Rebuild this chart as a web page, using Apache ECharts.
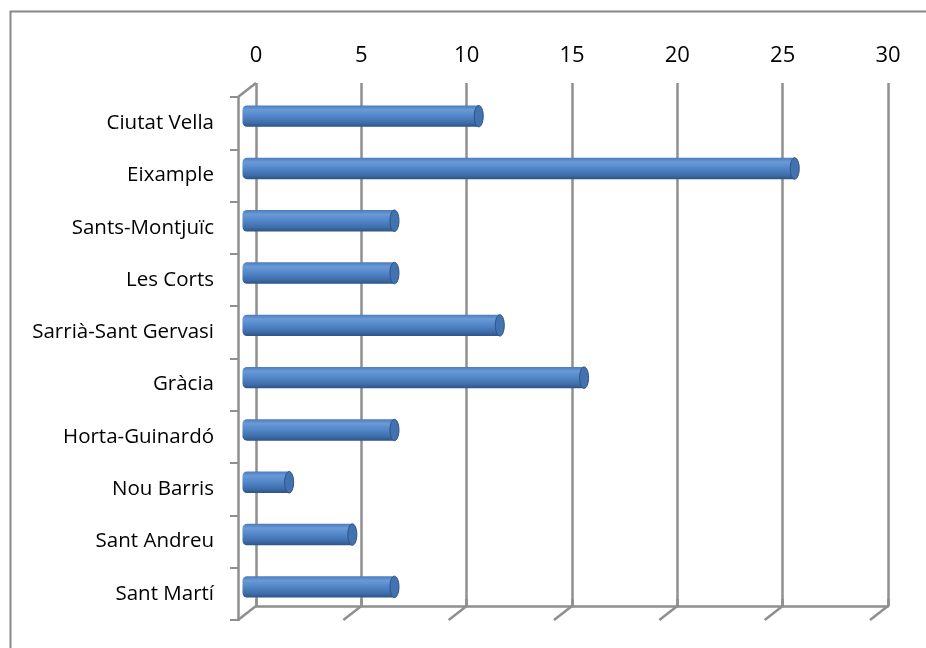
<!DOCTYPE html>
<html>
<head>
<meta charset="utf-8">
<script src="https://cdn.jsdelivr.net/npm/echarts@6/dist/echarts.min.js"></script>
<style>
html,body{margin:0;padding:0;background:#fff;}
#c{width:926px;height:648px;}
</style>
</head>
<body>
<div id="c"></div>
<script>
const categories = ['Ciutat Vella','Eixample','Sants-Montjuïc','Les Corts','Sarrià-Sant Gervasi','Gràcia','Horta-Guinardó','Nou Barris','Sant Andreu','Sant Martí'];
const values = [11, 26, 7, 7, 12, 16, 7, 2, 5, 7];
const tickValues = [0, 5, 10, 15, 20, 25, 30];

const GRID = '#8f8f8f';
const FONT = '"Open Sans", sans-serif';
const DX = -18, DY = 14;

const chart = echarts.init(document.getElementById('c'));

const barGrad = new echarts.graphic.LinearGradient(0, 0, 0, 1, [
  {offset: 0, color: '#4a7cbd'},
  {offset: 0.2, color: '#6a9ad6'},
  {offset: 0.5, color: '#5186c8'},
  {offset: 0.82, color: '#3e6ca8'},
  {offset: 1, color: '#2e5286'}
]);

chart.setOption({
  animation: false,
  backgroundColor: '#fff',
  graphic: [{
    type: 'rect', left: 8, top: 9, z: 0,
    shape: {width: 940, height: 660},
    style: {fill: 'none', stroke: '#878787', lineWidth: 2}
  }],
  grid: [
    {left: 256, right: 38, top: 83, bottom: 42},
    {left: 238, right: 56, top: 97, bottom: 28},
    {left: 247, right: 47, top: 90, bottom: 35}
  ],
  xAxis: [
    {gridIndex: 0, type: 'value', min: 0, max: 30, interval: 5, position: 'top',
     axisLine: {show: true, lineStyle: {color: GRID, width: 2.5}},
     axisTick: {show: true, length: 7, lineStyle: {color: GRID, width: 2.5}},
     splitLine: {show: true, lineStyle: {color: GRID, width: 2.5}},
     axisLabel: {color: '#000', fontSize: 22, fontFamily: FONT, margin: 16}},
    {gridIndex: 1, type: 'value', min: 0, max: 30, show: false},
    {gridIndex: 2, type: 'value', min: 0, max: 30, show: false}
  ],
  yAxis: [
    {gridIndex: 0, type: 'value', min: 0, max: 1, show: false},
    {gridIndex: 1, type: 'category', inverse: true, data: categories,
     axisLine: {show: true, lineStyle: {color: GRID, width: 2.5}},
     axisTick: {show: true, length: 8, lineStyle: {color: GRID, width: 2}},
     axisLabel: {color: '#000', fontSize: 20.5, fontFamily: FONT, margin: 24},
     splitLine: {show: false}},
    {gridIndex: 2, type: 'category', inverse: true, data: categories, show: false}
  ],
  series: [
    {
      type: 'custom', xAxisIndex: 0, yAxisIndex: 0, z: 1, silent: true,
      data: tickValues,
      renderItem: function (params, api) {
        const v = api.value(0);
        const b = api.coord([v, 0]);
        const children = [{
          type: 'line',
          shape: {x1: b[0], y1: b[1], x2: b[0] + DX, y2: b[1] + DY},
          style: {stroke: GRID, lineWidth: 2.5}
        }];
        if (v === 0) {
          const t = api.coord([v, 1]);
          children.push({
            type: 'line',
            shape: {x1: t[0], y1: t[1], x2: t[0] + DX, y2: t[1] + DY},
            style: {stroke: GRID, lineWidth: 2.5}
          });
        }
        return {type: 'group', children: children};
      }
    },
    {
      type: 'custom', xAxisIndex: 2, yAxisIndex: 2, z: 3,
      data: values.map(function (v, i) { return [v, i]; }),
      renderItem: function (params, api) {
        const s = api.coord([0, api.value(1)]);
        const e = api.coord([api.value(0), api.value(1)]);
        const h = api.size([0, 1])[1] * 0.41;
        const rx = 4.5;
        return {
          type: 'group',
          children: [
            {type: 'rect', shape: {x: s[0] - rx, y: s[1] - h / 2, width: e[0] - s[0] + rx, height: h, r: [rx, 0, 0, rx]},
             style: {fill: barGrad}},
            {type: 'ellipse', shape: {cx: e[0], cy: e[1], rx: rx, ry: h / 2},
             style: {fill: '#4372b0', stroke: '#2e5286', lineWidth: 1}}
          ]
        };
      }
    }
  ]
});
</script>
</body>
</html>
